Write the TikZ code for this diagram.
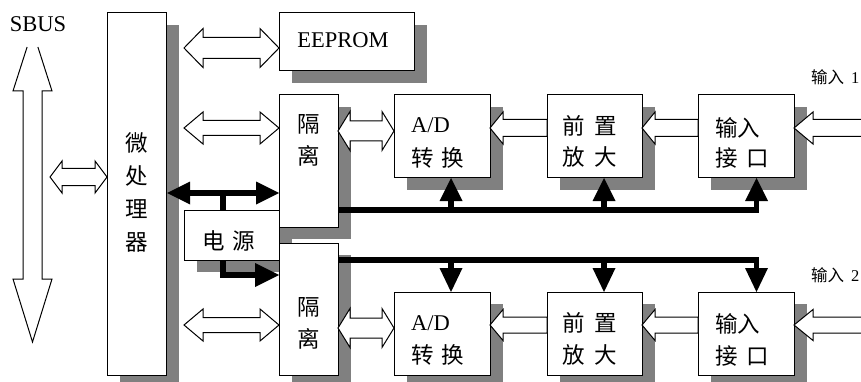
\documentclass[tikz,border=0pt]{standalone}
\usepackage{fontspec}
\setmainfont{Liberation Serif}
\newfontfamily\cjk{Noto Sans CJK SC}
\usetikzlibrary{backgrounds}
\definecolor{shd}{RGB}{128,128,128}
\tikzset{
  box/.style={draw=black, fill=white, line width=1pt, inner sep=0pt, outer sep=0pt},
  blk/.style={draw=black, fill=white, line width=1pt, line join=miter},
  bus/.style={draw=black, line width=5.5pt, line join=miter},
  lat/.style={font=\fontsize{22.5}{27}\selectfont, inner sep=0pt, anchor=base},
  zh/.style={font=\cjk\fontsize{22.5}{27}\selectfont, inner sep=0pt, anchor=base west},
  zhc/.style={zh, anchor=base},
  lab/.style={font=\cjk\fontsize{16.5}{20}\selectfont, inner sep=0pt, anchor=base west}
}
% double open block arrow: x1 x2 y shafthalf headhalf headlen
\newcommand\blkdbl[6]{%
  \draw[blk] (#1,#3) -- (#1+#6,#3-#5) -- (#1+#6,#3-#4) -- (#2-#6,#3-#4) -- (#2-#6,#3-#5)
    -- (#2,#3) -- (#2-#6,#3+#5) -- (#2-#6,#3+#4) -- (#1+#6,#3+#4) -- (#1+#6,#3+#5) -- cycle;}
% single open block arrow pointing left: tip tail y shafthalf headhalf headlen
\newcommand\blkleft[6]{%
  \draw[blk] (#1,#3) -- (#1+#6,#3-#5) -- (#1+#6,#3-#4) -- (#2,#3-#4) -- (#2,#3+#4)
    -- (#1+#6,#3+#4) -- (#1+#6,#3+#5) -- cycle;}
% filled triangle head: x tipy basey
\newcommand\trihead[3]{\fill[black] (#1-11.5,#3) -- (#1+11.5,#3) -- (#1,#2) -- cycle;}
\begin{document}
\begin{tikzpicture}[x=1pt,y=-1pt]
\useasboundingbox (0,0) rectangle (861,382);
% boxes
\node[box, minimum width=59pt, minimum height=362pt] (mpu) at (136.5,194) {};
\node[box, minimum width=135pt, minimum height=58pt] (eeprom) at (346.5,42) {};
\node[box, minimum width=59pt, minimum height=132pt] (iso1) at (308.5,161) {};
\node[box, minimum width=59pt, minimum height=132pt] (iso2) at (308.5,309) {};
\node[box, minimum width=96pt, minimum height=83pt] (ad1) at (442,136.5) {};
\node[box, minimum width=96pt, minimum height=83pt] (ad2) at (442,333.5) {};
\node[box, minimum width=95pt, minimum height=83pt] (pre1) at (594.5,136.5) {};
\node[box, minimum width=95pt, minimum height=83pt] (pre2) at (594.5,333.5) {};
\node[box, minimum width=96pt, minimum height=83pt] (in1) at (746,136.5) {};
\node[box, minimum width=96pt, minimum height=83pt] (in2) at (746,333.5) {};
\node[box, minimum width=95pt, minimum height=50pt] (pwr) at (231.5,235) {};
% shadows
\begin{scope}[on background layer]
  \foreach \n in {mpu,eeprom,iso1,iso2,ad1,ad2,pre1,pre2,in1,in2,pwr}
    \fill[shd] ([shift={(13,12)}]\n.south west) rectangle ([shift={(13,12)}]\n.north east);
\end{scope}
% texts
\node[lat] (sbus) at (38,32) {SBUS};
\node[lat] (eet) at (343,48) {EEPROM};
\node[zhc] (m1) at (136.5,151.5) {微};
\node[zhc] (m2) at (136.5,184.5) {处};
\node[zhc] (m3) at (136.5,217.5) {理};
\node[zhc] (m4) at (136.5,250.5) {器};
\node[zhc] (i1a) at (308.5,132.5) {隔};
\node[zhc] (i1b) at (308.5,164.5) {离};
\node[zhc] (i2a) at (308.5,315.5) {隔};
\node[zhc] (i2b) at (308.5,347.5) {离};
\node[zhc] (pwt) at (228.5,249.5) {电\hspace{8pt}源};
\node[lat, anchor=base west] (ad1a) at (411,133) {A/D};
\node[zh] (ad1b) at (411,166.5) {转\hspace{7.5pt}换};
\node[lat, anchor=base west] (ad2a) at (411,330) {A/D};
\node[zh] (ad2b) at (411,363.5) {转\hspace{7.5pt}换};
\node[zh] (p1a) at (562,134.5) {前\hspace{9.5pt}置};
\node[zh] (p1b) at (562,165.5) {放\hspace{9.5pt}大};
\node[zh] (p2a) at (562,331.5) {前\hspace{9.5pt}置};
\node[zh] (p2b) at (562,363.5) {放\hspace{9.5pt}大};
\node[zh] (n1a) at (715,136.5) {输入};
\node[zh] (n1b) at (715,166.5) {接\hspace{9pt}口};
\node[zh] (n2a) at (715,332.5) {输入};
\node[zh] (n2b) at (715,364.5) {接\hspace{9pt}口};
\node[lab] (lab1) at (811,83.3) {输入\hspace{7pt}{\rmfamily 1}};
\node[lab] (lab2) at (811,281.3) {输入\hspace{7pt}{\rmfamily 2}};
% SBUS arrow (top truncated)
\draw[blk] (27.1,47) -- (13,91) -- (23,91) -- (23,279) -- (13,279) -- (32.5,342)
  -- (52,279) -- (42,279) -- (42,91) -- (52,91) -- (37.9,47);
% open block arrows
\blkdbl{50}{107}{177}{8.5}{16}{12}
\blkdbl{184}{279}{48}{10.5}{19.5}{19}
\blkdbl{184}{279}{128}{7.5}{16}{19}
\blkdbl{184}{279}{325}{7.5}{16}{19}
\blkdbl{338}{394}{131}{10}{19.5}{12}
\blkdbl{338}{394}{328}{10}{19.5}{12}
\blkleft{490}{547}{128}{8.5}{16}{13}
\blkleft{642}{698}{128}{8.5}{16}{13}
\blkleft{794}{863}{128}{8.5}{16}{19}
\blkleft{490}{547}{325}{8}{15.5}{13}
\blkleft{642}{698}{325}{8}{15.5}{13}
\blkleft{794}{863}{325}{8}{15.5}{19}
% power connections
\draw[bus] (189,193) -- (257,193);
\draw[bus] (223,210) -- (223,193);
\fill[black] (167,193) -- (190,181.5) -- (190,204.5) -- cycle;
\fill[black] (279,193) -- (256,181.5) -- (256,204.5) -- cycle;
\draw[bus] (223,260) -- (223,275) -- (256,275);
\fill[black] (279,275) -- (255,263) -- (255,287) -- cycle;
% upper bus
\draw[bus] (338,210) -- (756.5,210) -- (756.5,200);
\draw[bus] (451,210) -- (451,200);
\draw[bus] (604,210) -- (604,200);
\trihead{451}{178}{201}
\trihead{604}{178}{201}
\trihead{756.5}{178}{201}
% lower bus
\draw[bus] (338,260) -- (756.5,260) -- (756.5,269);
\draw[bus] (451,260) -- (451,269);
\draw[bus] (604,260) -- (604,269);
\trihead{451}{292}{268}
\trihead{604}{292}{268}
\trihead{756.5}{292}{268}
\end{tikzpicture}
\end{document}
